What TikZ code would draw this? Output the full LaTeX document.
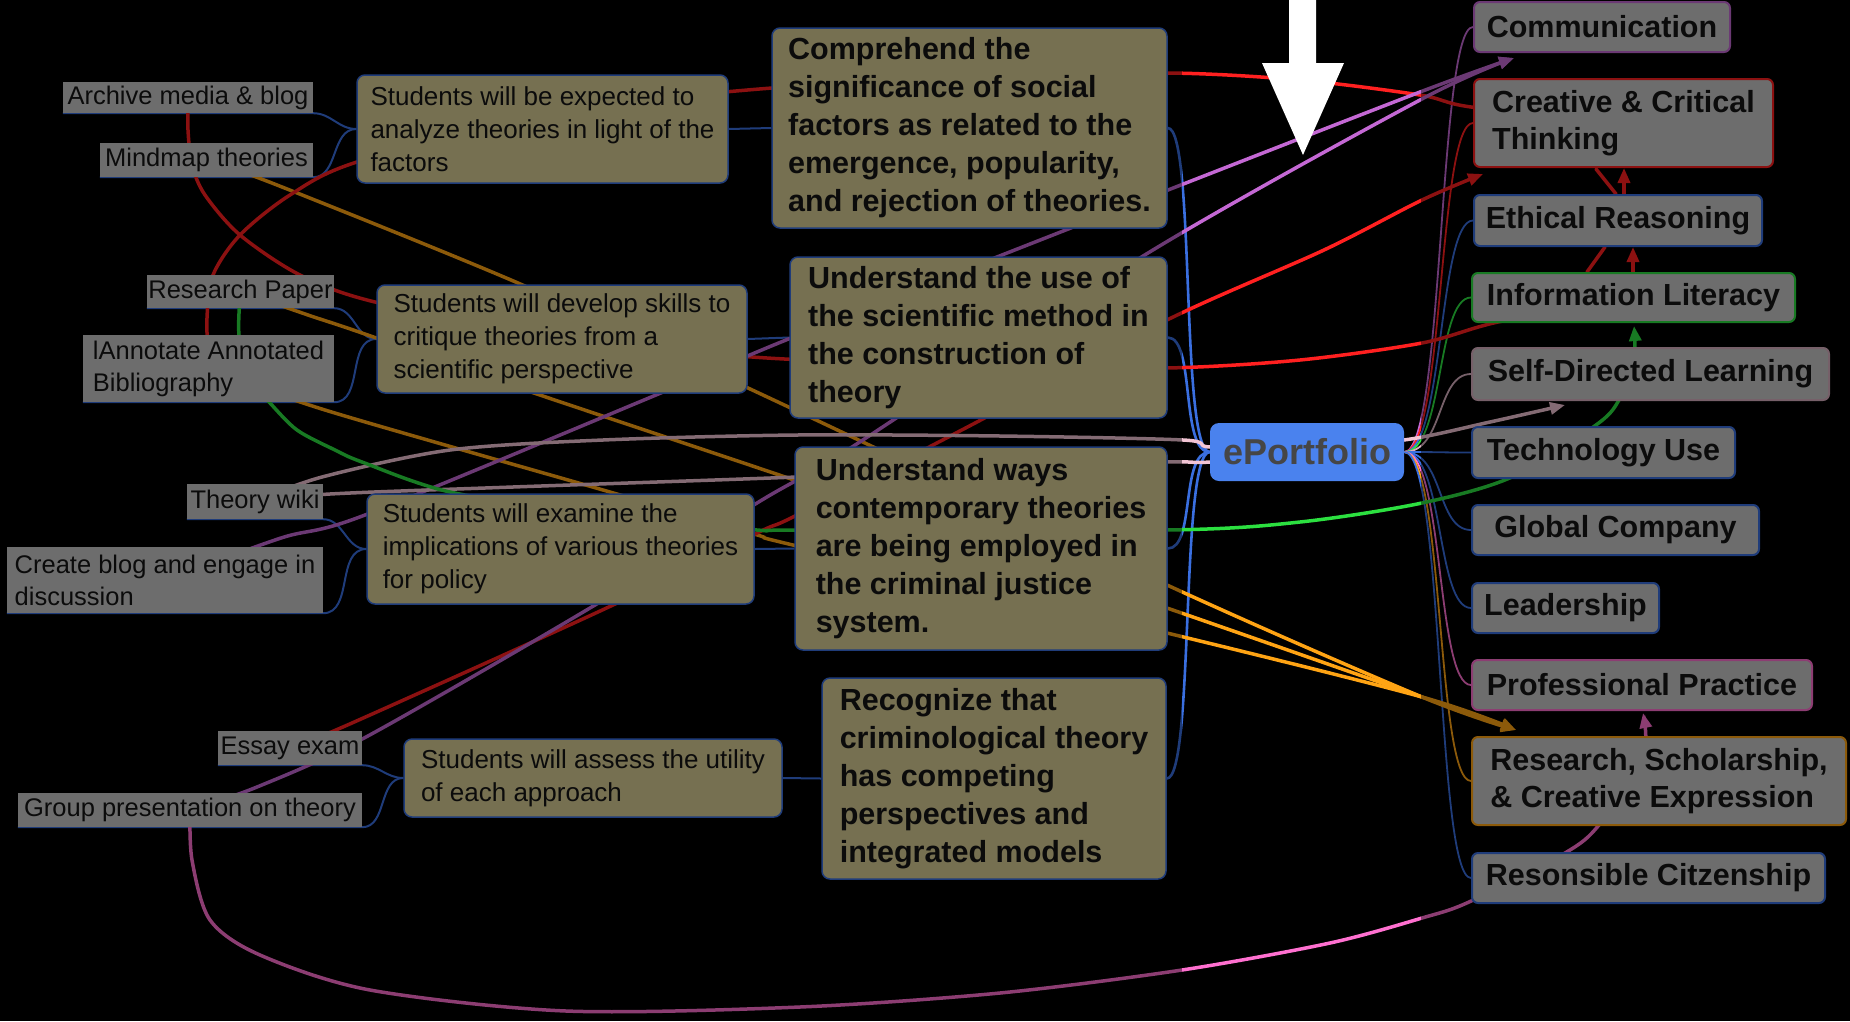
\documentclass[tikz,border=0pt]{standalone}
\usepackage{fontspec}
\setmainfont{Liberation Sans}
\usetikzlibrary{arrows.meta}
\pgfdeclarelayer{back}\pgfdeclarelayer{lines}\pgfdeclarelayer{top}
\pgfsetlayers{back,lines,main,top}
\definecolor{leafg}{HTML}{C8C8C8}
\definecolor{olivef}{HTML}{D7CC95}
\definecolor{tblue}{HTML}{3A6FE0}
\definecolor{rred}{HTML}{FF2020}
\definecolor{rpurple}{HTML}{C468D4}
\definecolor{rmauve}{HTML}{F2C4D4}
\definecolor{rgreen}{HTML}{2CE040}
\definecolor{rorange}{HTML}{FFA414}
\definecolor{rpink}{HTML}{FF70D0}
\definecolor{bSelf}{HTML}{D8B0C0}
\definecolor{eblue}{HTML}{4A82EE}
\definecolor{txt}{HTML}{151515}
\newcommand{\BX}[7]{%
  \pgfmathsetmacro{\bxw}{#5-#3}\pgfmathsetmacro{\bxh}{#6-#4}%
  \pgfmathsetmacro{\bxx}{(#3+#5)/2}\pgfmathsetmacro{\bxy}{(#4+#6)/2}%
  \node[#2, minimum width=\bxw pt, minimum height=\bxh pt] (#1) at (\bxx,\bxy) {#7};}
\begin{document}
\begin{tikzpicture}[x=1pt,y=-1pt,
  leaf/.style={fill=leafg, inner sep=0pt, font=\fontsize{25.5}{32}\selectfont, text=txt, align=left},
  act/.style={fill=olivef, draw=tblue, line width=1.5pt, rounded corners=8pt, inner sep=0pt, font=\fontsize{26}{33}\selectfont, text=txt, align=left},
  obj/.style={act, font=\fontsize{30.5}{38}\selectfont\bfseries},
  outc/.style={fill=leafg, line width=2pt, rounded corners=6pt, inner sep=0pt, font=\fontsize{30.5}{37}\selectfont\bfseries, text=txt, align=left},
  tree/.style={draw=tblue, line width=2pt},
  trunk/.style={draw=tblue, line width=2.6pt},
  rel/.style={line width=3.5pt, line cap=round},
  tip/.style={-{Triangle[length=15pt,width=12pt]}}]
\begin{pgfonlayer}{back}\fill[black] (0,0) rectangle (1850,1021);\end{pgfonlayer}
\useasboundingbox (0,0) rectangle (1850,1021);
% leaves
\BX{archive}{leaf}{63}{82}{313}{113}{Archive media \& blog}
\BX{mindmap}{leaf}{100}{143}{313}{177}{Mindmap theories}
\BX{rpaper}{leaf}{147}{275}{334}{308}{Research Paper}
\BX{annot}{leaf}{83}{335}{334}{402}{lAnnotate Annotated\\Bibliography}
\BX{wiki}{leaf}{187}{484}{323}{519}{Theory wiki}
\BX{blog}{leaf}{7}{547}{323}{613}{Create blog and engage in\\discussion}
\BX{essay}{leaf}{218}{731}{362}{765}{Essay exam}
\BX{group}{leaf}{18}{793}{362}{827}{Group presentation on theory}
% activities
\BX{expect}{act}{357}{75}{728}{183}{Students will be expected to\\analyze theories in light of the\\factors}
\BX{develop}{act}{377}{285}{747}{393}{Students will develop skills to\\critique theories from a\\scientific perspective}
\BX{examine}{act}{367}{494}{754}{604}{Students will examine the\\implications of various theories\\for policy}
\BX{assess}{act}{404}{739}{782}{817}{Students will assess the utility\\of each approach}
% objectives
\BX{comp}{obj}{772}{28}{1167}{228}{Comprehend the\\significance of social\\factors as related to the\\emergence, popularity,\\and rejection of theories.}
\BX{uuse}{obj}{790}{257}{1167}{418}{Understand the use of\\the scientific method in\\the construction of\\theory}
\BX{uways}{obj}{795}{447}{1167}{650}{Understand ways\\contemporary theories\\are being employed in\\the criminal justice\\system.}
\BX{recog}{obj}{822}{678}{1166}{879}{Recognize that\\criminological theory\\has competing\\perspectives and\\integrated models}
% centre
\node[fill=eblue, rounded corners=9pt, inner sep=0pt, minimum width=194pt, minimum height=58pt,
  font=\fontsize{36}{40}\selectfont\bfseries, text={rgb,255:red,70;green,70;blue,70}] (eport) at (1307,452) {ePortfolio};
% outcomes
\BX{comm}{outc,draw=rpurple}{1474}{2}{1730}{52}{Communication}
\BX{crea}{outc,draw=rred}{1474}{79}{1773}{167}{Creative \& Critical\\Thinking}
\BX{eth}{outc,draw=tblue}{1474}{195}{1762}{246}{Ethical Reasoning}
\BX{info}{outc,draw=rgreen}{1472}{273}{1795}{322}{Information Literacy}
\BX{self}{outc,draw=bSelf}{1472}{348}{1829}{400}{Self-Directed Learning}
\BX{tech}{outc,draw=tblue}{1472}{427}{1735}{478}{Technology Use}
\BX{glob}{outc,draw=tblue}{1472}{505}{1759}{555}{Global Company}
\BX{lead}{outc,draw=tblue}{1472}{583}{1659}{633}{Leadership}
\BX{prof}{outc,draw=rpink}{1472}{660}{1812}{710}{Professional Practice}
\BX{resr}{outc,draw=rorange}{1472}{737}{1846}{825}{Research, Scholarship,\\\& Creative Expression}
\BX{resp}{outc,draw=tblue}{1472}{853}{1825}{903}{Resonsible Citzenship}
% arrow tips of relations
\coordinate (tipComm) at (1514,58);
\coordinate (tipCre) at (1483,174);
\coordinate (tipInfo) at (1634,326);
\coordinate (tipSelf) at (1565,405);
\coordinate (tipRes) at (1516,730);
\coordinate (tipProf) at (1643,713);
\begin{pgfonlayer}{lines}
% tree
\foreach \a/\p in {archive/expect,mindmap/expect,rpaper/develop,annot/develop,wiki/examine,blog/examine,essay/assess,group/assess}
  \draw[tree] (\a.south west) -- (\a.south east) to[out=0,in=180] (\p.west);
\draw[tree] (expect.east) -- (comp.west);
\draw[tree] (develop.east) -- (uuse.west);
\draw[tree] (examine.east) -- (uways.west);
\draw[tree] (assess.east) -- (recog.west);
\foreach \o in {comp,uuse,uways,recog}
  \draw[trunk] (\o.east) .. controls ([xshift=28pt]\o.east) and ([xshift=-30pt]eport.west) .. (eport.west);
\foreach \n/\c in {comm/rpurple,crea/rred,eth/tblue,info/rgreen,self/bSelf,tech/tblue,glob/tblue,lead/tblue,prof/rpink,resr/rorange,resp/tblue}
  \draw[\c, line width=1.8pt] (eport.east) .. controls ([xshift=40pt]eport.east) and ([xshift=-35pt]\n.west) .. (\n.west);
% relations
\draw[rel,rorange,tip] plot[smooth] coordinates {(mindmap.center) (277,185) (518,283) (748,388) (1167,585) (1422,697) (tipRes)};
\draw[rel,rorange,tip] plot[smooth] coordinates {(rpaper.center) (308,315) (362,333) (534,393) (794,480) (1167,608) (1422,697) (tipRes)};
\draw[rel,rorange,tip] plot[smooth] coordinates {(annot.center) (325,410) (603,490) (754,534) (797,546) (1167,633) (1422,697) (tipRes)};
\draw[rel,rred] plot[smooth] coordinates {(annot.center) (207,318) (213,275) (240,235) (290,195) (357,162) (550,113) (772,88) (1000,78) (1167,73) (1300,80) (1420,95) (1471,107) (crea.center)};
\draw[rel,rred] plot[smooth] coordinates {(archive.center) (188,130) (192,165) (205,195) (240,235) (300,275) (375,302) (560,338) (767,358) (1000,366) (1167,368) (1300,360) (1422,343) (1498,322) (info.center)};
\draw[rel,rred,tip] plot[smooth] coordinates {(essay.center) (352,723) (613,605) (757,533) (797,515) (977,422) (1167,320) (1324,250) (1422,200) (tipCre)};
\draw[rel,rpurple,tip] plot[smooth] coordinates {(blog.center) (281,538) (365,515) (656,395) (786,340) (1002,255) (1168,190) (1420,92) (tipComm)};
\draw[rel,rpurple,tip] plot[smooth] coordinates {(group.center) (257,787) (366,737) (595,605) (757,503) (852,447) (1148,253) (1420,100) (tipComm)};
\draw[rel,rmauve,tip] plot[smooth] coordinates {(wiki.center) (322,477) (450,450) (603,440) (797,435) (1000,436) (1183,440) (1210,447) (1300,447) (1404,440) (1490,422) (tipSelf)};
\draw[rel,rmauve] plot[smooth] coordinates {(wiki.center) (330,494) (513,487) (797,477) (1000,468) (1167,462) (1210,462) (eport.center)};
\draw[rel,rgreen,tip] plot[smooth] coordinates {(rpaper.center) (239,335) (250,380) (270,403) (297,430) (335,450) (362,462) (450,492) (600,515) (757,530) (797,530) (1167,530) (1300,522) (1422,503) (1512,477) (1596,425) (1619,400) (1634,360) (tipInfo)};
\draw[rel,rpink,tip] plot[smooth] coordinates {(group.center) (192,860) (210,920) (260,955) (370,990) (566,1011) (800,1007) (1000,993) (1182,970) (1330,943) (1422,918) (1469,902) (1565,853) (1599,825) (1643,760) (tipProf)};
% short red links between outcome boxes
\coordinate (rA) at (1596,169); \coordinate (rB) at (1616,194);
\coordinate (rC) at (1605,247); \coordinate (rD) at (1587,272);
\draw[rel,rred] (rA) -- (rB);
\draw[rel,rred] (rC) -- (rD);
\draw[rel,rred,tip] ([xshift=151pt]eth.north west) -- ([xshift=151pt]crea.south west);
\draw[rel,rred,tip] ([xshift=162pt]info.north west) -- ([xshift=160pt]eth.south west);
\end{pgfonlayer}
\fill[white] (1289,0) -- (1316,0) -- (1316,63) -- (1344,63) -- (1303,155) -- (1262,63) -- (1289,63) -- cycle;
\begin{pgfonlayer}{top}
\fill[black, opacity=0.45] (0,0) rectangle (1182,1021);
\fill[black, opacity=0.45] (1421,0) rectangle (1850,1021);
\end{pgfonlayer}
\end{tikzpicture}
\end{document}
